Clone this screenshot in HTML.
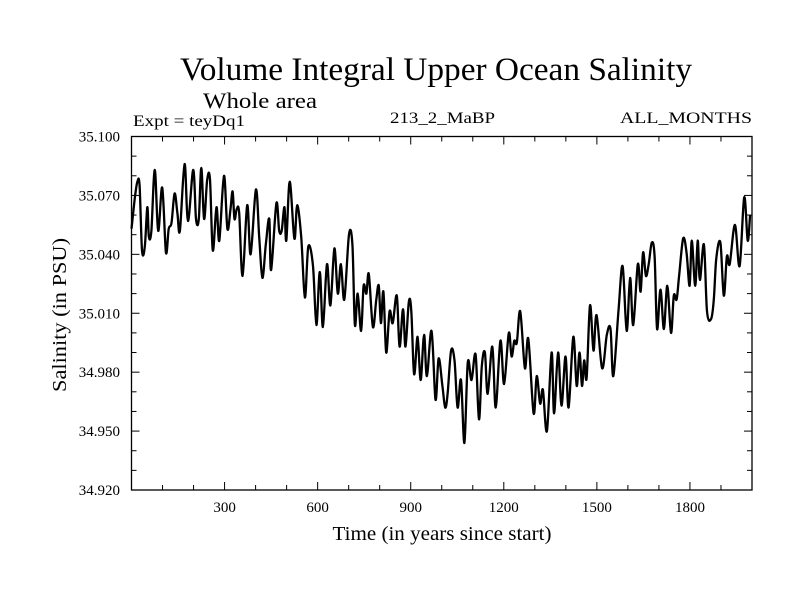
<!DOCTYPE html>
<html><head><meta charset="utf-8"><style>
html,body{margin:0;padding:0;background:#fff;width:800px;height:600px;overflow:hidden}
svg{display:block;font-family:"Liberation Serif",serif}
</style></head><body>
<svg id="chart" width="800" height="600" viewBox="0 0 800 600">
<text x="436" y="80" font-size="33" text-anchor="middle" textLength="512" lengthAdjust="spacingAndGlyphs">Volume Integral Upper Ocean Salinity</text>
<text x="203" y="108" font-size="22" textLength="114" lengthAdjust="spacingAndGlyphs">Whole area</text>
<text x="133" y="126" font-size="16" textLength="112" lengthAdjust="spacingAndGlyphs">Expt = teyDq1</text>
<text x="390" y="123" font-size="16" textLength="105" lengthAdjust="spacingAndGlyphs">213_2_MaBP</text>
<text x="752" y="123" font-size="16" text-anchor="end" textLength="132" lengthAdjust="spacingAndGlyphs">ALL_MONTHS</text>
<text x="442" y="540" font-size="20" text-anchor="middle" textLength="219" lengthAdjust="spacingAndGlyphs">Time (in years since start)</text>
<text transform="translate(66,315) rotate(-90)" font-size="20" text-anchor="middle" textLength="154" lengthAdjust="spacingAndGlyphs">Salinity (in PSU)</text>
<g id="axes"></g>
<g id="series"></g>
</svg>
<script>
const years=[0,11,19,26,34,43,51,56,64,75,86,99,111,120,129,139,148,156,171,182,199,208,217,225,234,244,253,262,274,283,298,309,319,326,332,339,347,358,373,384,401,412,422,433,444,450,467,476,484,493,499,510,525,534,547,559,570,585,596,607,617,630,641,654,665,675,686,701,712,720,729,740,748,757,765,778,789,797,804,812,821,832,842,855,864,875,883,894,902,911,922,932,943,952,967,980,990,
1002,1011,1019,1030,1041,1051,1062,1073,1084,1096,1109,1120,1129,1139,1148,1163,1174,1189,1201,1216,1225,1234,1242,1253,1268,1279,1296,1306,1317,1326,1339,1354,1362,1375,1386,1399,1409,1424,1435,1444,1452,1459,1467,1478,1489,1499,1517,1532,1544,1553,1570,1583,1596,1607,1617,1632,1641,1649,1658,1667,1677,1686,1694,1705,1716,1727,1739,1748,1757,1765,1778,1789,1799,1806,1817,1825,1832,1845,1855,1868,1877,1885,1898,1909,1919,1928,1945,1960,1975,1986,1994];
const salinity=[35.053,35.069,35.077,35.075,35.042,35.044,35.064,35.049,35.052,35.083,35.052,35.074,35.041,35.053,35.056,35.071,35.061,35.052,35.086,35.057,35.083,35.058,35.058,35.084,35.058,35.078,35.078,35.042,35.064,35.047,35.080,35.053,35.063,35.072,35.058,35.063,35.061,35.029,35.065,35.040,35.073,35.048,35.028,35.045,35.058,35.032,35.066,35.052,35.052,35.064,35.047,35.077,35.048,35.065,35.049,35.018,35.044,35.034,35.004,35.031,35.003,35.035,35.014,35.043,35.020,35.035,35.017,35.050,35.045,35.004,35.020,35.001,35.024,35.020,35.030,35.003,35.017,35.024,35.005,35.021,34.990,35.011,35.005,35.019,34.993,35.012,34.993,35.016,35.011,34.979,34.998,34.976,34.999,34.978,35.001,34.966,34.987,
34.973,34.962,34.969,34.991,34.986,34.962,34.976,34.944,34.985,34.976,34.989,34.956,34.983,34.990,34.969,34.993,34.962,34.996,34.974,35.000,34.988,34.996,34.995,35.011,34.982,34.997,34.959,34.978,34.964,34.971,34.950,34.990,34.959,34.990,34.963,34.988,34.962,34.998,34.973,34.990,34.973,34.986,34.977,35.014,34.991,35.009,34.982,34.999,35.002,34.978,35.012,35.034,35.001,35.028,35.004,35.035,35.021,35.041,35.029,35.035,35.046,35.039,35.002,35.022,35.002,35.024,35.000,35.019,35.017,35.029,35.048,35.041,35.024,35.047,35.024,35.047,35.027,35.045,35.011,35.007,35.017,35.038,35.046,35.019,35.039,35.035,35.055,35.034,35.069,35.047,35.060];
const xTickLabels=[300,600,900,1200,1500,1800];
const yTickLabels=["34.920","34.950","34.980","35.010","35.040","35.070","35.100"];
const xMin=0,xMax=2000,yMin=34.92,yMax=35.10;
const L=131.5,R=752,T=136.5,B=490;
const NS="http://www.w3.org/2000/svg";
function sx(v){return L+(v-xMin)/(xMax-xMin)*(R-L);}
function sy(v){return B-(v-yMin)/(yMax-yMin)*(B-T);}
function mk(tag,attrs,parent){const e=document.createElementNS(NS,tag);for(const k in attrs)e.setAttribute(k,attrs[k]);parent.appendChild(e);return e;}
const axes=document.getElementById('axes');
const frame=mk('rect',{x:L,y:T,width:R-L,height:B-T,fill:'none',stroke:'#000','stroke-width':1.3},axes);


for(let v=100;v<xMax;v+=100){
  const x=sx(v);const len=(v%300===0)?8:5;
  const t1=mk('line',{x1:x,y1:B,x2:x,y2:B-len,stroke:'#000','stroke-width':1},axes);
  
  
  const t2=mk('line',{x1:x,y1:T,x2:x,y2:T+len,stroke:'#000','stroke-width':1},axes);
  
  
}
for(let i=1;i<18;i++){
  const v=yMin+i*0.01;const y=sy(v);const len=(i%3===0)?8:5;
  const t1=mk('line',{x1:L,y1:y,x2:L+len,y2:y,stroke:'#000','stroke-width':1},axes);
  
  
  const t2=mk('line',{x1:R,y1:y,x2:R-len,y2:y,stroke:'#000','stroke-width':1},axes);
  
  
}
xTickLabels.forEach(v=>{
  const t=mk('text',{x:sx(v),y:512,'font-size':15,'text-anchor':'middle'},axes);
  t.textContent=v;
  
  
});
yTickLabels.forEach(s=>{
  const t=mk('text',{x:120,y:sy(parseFloat(s))+5,'font-size':15,'text-anchor':'end'},axes);
  t.textContent=s;
  
  
});
const P=years.map((y,i)=>[sx(y),sy(salinity[i])]);
let d='M'+P[0][0].toFixed(1)+','+P[0][1].toFixed(1);
for(let i=0;i<P.length-1;i++){
  const p0=P[Math.max(0,i-1)],p1=P[i],p2=P[i+1],p3=P[Math.min(P.length-1,i+2)];
  const c1x=p1[0]+(p2[0]-p0[0])/6,c1y=p1[1]+(p2[1]-p0[1])/6;
  const c2x=p2[0]-(p3[0]-p1[0])/6,c2y=p2[1]-(p3[1]-p1[1])/6;
  d+=' C'+c1x.toFixed(1)+','+c1y.toFixed(1)+' '+c2x.toFixed(1)+','+c2y.toFixed(1)+' '+p2[0].toFixed(1)+','+p2[1].toFixed(1);
}
const line=mk('path',{d:d,fill:'none',stroke:'#000','stroke-width':2.3,'stroke-linejoin':'round'},document.getElementById('series'));


</script>
</body></html>
